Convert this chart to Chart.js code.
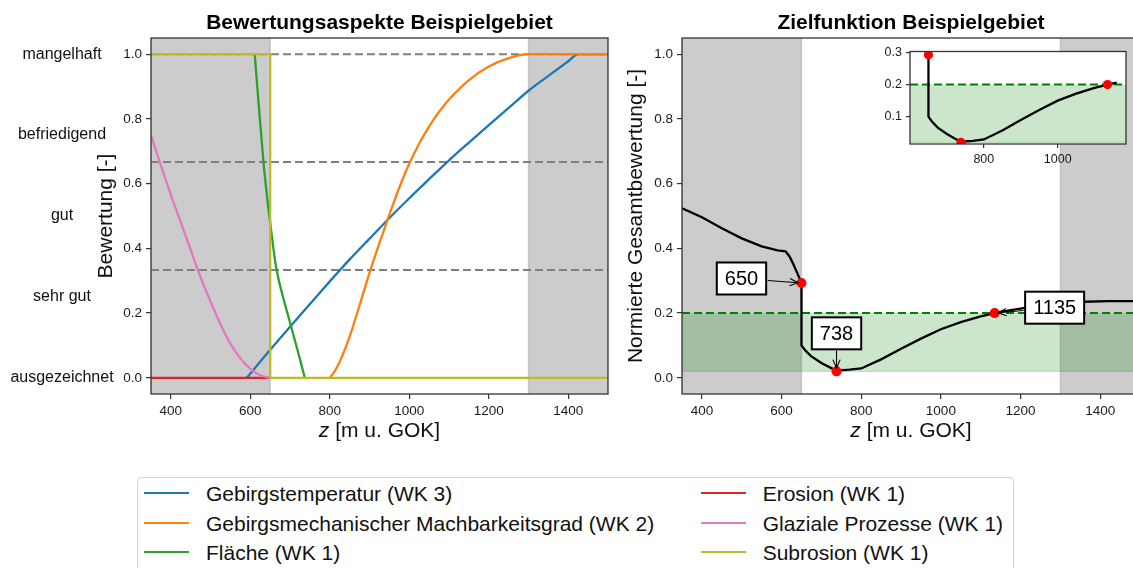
<!DOCTYPE html>
<html>
<head>
<meta charset="utf-8">
<script src="https://cdn.jsdelivr.net/npm/chart.js@4.4.1/dist/chart.umd.min.js"></script>
<style>
html, body { margin: 0; padding: 0; background: #fff; }
body { width: 1133px; height: 568px; overflow: hidden; position: relative; font-family: 'Liberation Sans', Arial, sans-serif; }
canvas { position: absolute; }
#links { left: 0; top: 0; }
#rechts { left: 620px; top: 0; }
#inset { left: 866px; top: 40px; }
#legende { position: absolute; left: 137px; top: 477px; width: 877px; height: 110px; border: 1px solid #d4d4d4; border-radius: 4px; box-sizing: border-box; background: #fff; }
.linie { position: absolute; width: 45px; height: 2.4px; }
.text { position: absolute; font-size: 21px; line-height: 1; color: #111; transform: translateY(-50%); white-space: nowrap; }
</style>
</head>
<body>
<canvas id="links" width="620" height="460"></canvas>
<canvas id="rechts" width="540" height="460"></canvas>
<canvas id="inset" width="266" height="130"></canvas>
<div id="legende"></div>
<script>
const FONT = "'Liberation Sans', Arial, sans-serif";

// Bewertungsaspekte (links)
const reiheNamen = [
    "Gebirgstemperatur (WK 3)",
    "Gebirgsmechanischer Machbarkeitsgrad (WK 2)",
    "Fläche (WK 1)",
    "Erosion (WK 1)",
    "Glaziale Prozesse (WK 1)",
    "Subrosion (WK 1)"
];
const reiheFarben = ["#1f77b4", "#ff7f0e", "#2ca02c", "#d62728", "#e377c2", "#bcbd22"];

const tempZ = [591, 650, 700, 750, 800, 850, 900, 950, 1000, 1050, 1100, 1150, 1200, 1250, 1300, 1350, 1400, 1425, 1500];
const tempW = [0, 0.087, 0.158, 0.228, 0.298, 0.366, 0.430, 0.494, 0.555, 0.614, 0.672, 0.727, 0.781, 0.834, 0.887, 0.933, 0.978, 1.0, 1.0];

const machZ = [800, 812, 825, 850, 875, 900, 925, 950, 975, 1000, 1025, 1050, 1075, 1100, 1150, 1200, 1250, 1300, 1500];
const machW = [0, 0.02, 0.05, 0.128, 0.225, 0.325, 0.417, 0.505, 0.588, 0.662, 0.724, 0.777, 0.822, 0.86, 0.92, 0.962, 0.988, 1.0, 1.0];

const flaecheZ = [611, 620, 633, 642, 650, 657, 663, 670, 680, 700, 720, 737];
const flaecheW = [1.0, 0.86, 0.667, 0.56, 0.478, 0.41, 0.355, 0.31, 0.26, 0.17, 0.08, 0];

const erosionZ = [350, 650];
const erosionW = [0, 0];

const glazialZ = [350, 375, 400, 425, 450, 475, 500, 525, 550, 575, 600, 625, 650];
const glazialW = [0.75, 0.655, 0.565, 0.48, 0.395, 0.31, 0.235, 0.165, 0.105, 0.06, 0.028, 0.008, 0];

const subrosionZ = [350, 650, 650, 1500];
const subrosionW = [1, 1, 0, 0];

const klassenGrenzen = [1 / 3, 2 / 3, 1];
const klassenNamen = ["ausgezeichnet", "sehr gut", "gut", "befriedigend", "mangelhaft"];
const klassenPos = [0, 0.25, 0.5, 0.75, 1];

const ausschluss = [[350, 650], [1300, 1500]];

// Zielfunktion (rechts)
const zielZ = [350, 400, 450, 500, 550, 590, 610, 620, 630, 640, 650, 650, 660, 675, 700, 720, 738, 770, 800, 850, 900, 950, 1000, 1050, 1100, 1135, 1160, 1200, 1250, 1300, 1360, 1420, 1500];
const zielW = [0.524, 0.496, 0.462, 0.431, 0.406, 0.394, 0.391, 0.375, 0.350, 0.322, 0.293, 0.100, 0.084, 0.066, 0.046, 0.033, 0.022, 0.025, 0.029, 0.057, 0.090, 0.121, 0.150, 0.172, 0.190, 0.200, 0.206, 0.214, 0.224, 0.231, 0.235, 0.237, 0.237];

const markerZ = [650, 738, 1135];
const markerW = [0.293, 0.02, 0.2];
const markerText = ["650", "738", "1135"];

const zielBereich = [0.02, 0.2];

const insetXTicks = [800, 1000];
const insetYTicks = [0.1, 0.2, 0.3];

function punkte(z, w) {
    return z.map((v, i) => ({ x: v, y: w[i] }));
}

function achsen(o) {
    return {
        x: {
            type: "linear", min: o.xmin, max: o.xmax,
            ticks: { stepSize: o.xstep, includeBounds: false, autoSkip: false, maxRotation: 0, padding: o.tpad, color: "#1a1a1a", font: { size: o.fs }, callback: v => String(v) },
            grid: { drawOnChartArea: false, drawTicks: true, tickLength: o.tl, color: "#333", lineWidth: 1.2 },
            border: { display: false },
            afterBuildTicks: s => { if (o.xwerte) s.ticks = o.xwerte.map(v => ({ value: v })); },
            afterFit: s => { s.height = o.xh; }
        },
        y: {
            type: "linear", min: o.ymin, max: o.ymax,
            ticks: { stepSize: o.ystep, includeBounds: false, padding: o.tpad, color: "#1a1a1a", font: { size: o.fs }, callback: v => v.toFixed(1) },
            grid: { drawOnChartArea: false, drawTicks: true, tickLength: o.tl, color: "#333", lineWidth: 1.2 },
            border: { display: false },
            title: o.ytitel ? { display: true, text: o.ytitel, color: "#111", font: { size: 21 }, padding: { top: o.ytpad, bottom: 0 } } : { display: false },
            afterBuildTicks: s => { if (o.ywerte) s.ticks = o.ywerte.map(v => ({ value: v })); },
            afterFit: s => { s.width = o.yw; }
        }
    };
}

function rahmen(chart) {
    const { ctx, chartArea: a } = chart;
    ctx.save();
    ctx.strokeStyle = "#333";
    ctx.lineWidth = 1.3;
    ctx.strokeRect(a.left, a.top, a.right - a.left, a.bottom - a.top);
    ctx.restore();
}

function titel(chart, text) {
    const { ctx, chartArea: a } = chart;
    ctx.save();
    ctx.font = "bold 21px " + FONT;
    ctx.fillStyle = "#000";
    ctx.textAlign = "center";
    ctx.textBaseline = "alphabetic";
    ctx.fillText(text, (a.left + a.right) / 2, 29);
    ctx.restore();
}

function xTitel(chart) {
    const { ctx, chartArea: a } = chart;
    ctx.save();
    ctx.fillStyle = "#111";
    ctx.textAlign = "left";
    ctx.textBaseline = "alphabetic";
    ctx.font = "italic 21px " + FONT;
    const w1 = ctx.measureText("z").width;
    ctx.font = "21px " + FONT;
    const w2 = ctx.measureText(" [m u. GOK]").width;
    const x0 = (a.left + a.right) / 2 - (w1 + w2) / 2;
    ctx.font = "italic 21px " + FONT;
    ctx.fillText("z", x0, 437);
    ctx.font = "21px " + FONT;
    ctx.fillText(" [m u. GOK]", x0 + w1, 437);
    ctx.restore();
}

function grauFlaechen(chart) {
    const { ctx, chartArea: a, scales: { x } } = chart;
    ausschluss.forEach(([z0, z1]) => {
        const p0 = x.getPixelForValue(z0), p1 = x.getPixelForValue(z1);
        ctx.fillStyle = "rgba(128,128,128,0.4)";
        ctx.fillRect(p0, a.top, p1 - p0, a.bottom - a.top);
        ctx.strokeStyle = "rgba(128,128,128,0.3)";
        ctx.lineWidth = 1.5;
        [p0, p1].forEach(p => {
            ctx.beginPath(); ctx.moveTo(p, a.top); ctx.lineTo(p, a.bottom); ctx.stroke();
        });
    });
}

function gruenBand(chart) {
    const { ctx, chartArea: a, scales: { y } } = chart;
    const y0 = y.getPixelForValue(zielBereich[0]), y1 = y.getPixelForValue(zielBereich[1]);
    ctx.fillStyle = "rgba(0,128,0,0.2)";
    ctx.fillRect(a.left, y1, a.right - a.left, y0 - y1);
    ctx.strokeStyle = "rgba(0,128,0,0.2)";
    ctx.lineWidth = 1.2;
    ctx.beginPath(); ctx.moveTo(a.left, y0); ctx.lineTo(a.right, y0); ctx.stroke();
    ctx.strokeStyle = "#008000";
    ctx.lineWidth = 2;
    ctx.setLineDash([8, 4]);
    ctx.beginPath(); ctx.moveTo(a.left, y1); ctx.lineTo(a.right, y1); ctx.stroke();
    ctx.setLineDash([]);
}

function pfeil(ctx, x0, y0, x1, y1) {
    const ang = Math.atan2(y1 - y0, x1 - x0);
    ctx.beginPath();
    ctx.moveTo(x0, y0); ctx.lineTo(x1, y1);
    ctx.moveTo(x1 - 9 * Math.cos(ang - 0.42), y1 - 9 * Math.sin(ang - 0.42));
    ctx.lineTo(x1, y1);
    ctx.lineTo(x1 - 9 * Math.cos(ang + 0.42), y1 - 9 * Math.sin(ang + 0.42));
    ctx.stroke();
}

// ---------- linkes Diagramm ----------
const linksDaten = [[tempZ, tempW], [machZ, machW], [flaecheZ, flaecheW], [erosionZ, erosionW], [glazialZ, glazialW], [subrosionZ, subrosionW]];

const linksPlugin = {
    id: "linksDeko",
    beforeDatasetsDraw(chart) {
        const { ctx, chartArea: a, scales: { y } } = chart;
        ctx.save();
        ctx.beginPath(); ctx.rect(a.left, a.top, a.right - a.left, a.bottom - a.top); ctx.clip();
        grauFlaechen(chart);
        ctx.strokeStyle = "#808080";
        ctx.lineWidth = 2;
        ctx.setLineDash([8, 4]);
        klassenGrenzen.forEach(g => {
            const py = y.getPixelForValue(g);
            ctx.beginPath(); ctx.moveTo(a.left, py); ctx.lineTo(a.right, py); ctx.stroke();
        });
        ctx.restore();
    },
    afterDraw(chart) {
        const { ctx, scales: { y } } = chart;
        rahmen(chart);
        titel(chart, "Bewertungsaspekte Beispielgebiet");
        xTitel(chart);
        ctx.save();
        ctx.font = "16px " + FONT;
        ctx.fillStyle = "#111";
        ctx.textAlign = "center";
        ctx.textBaseline = "middle";
        klassenNamen.forEach((n, i) => ctx.fillText(n, 62, y.getPixelForValue(klassenPos[i])));
        ctx.restore();
    }
};

new Chart(document.getElementById("links"), {
    type: "line",
    data: {
        datasets: linksDaten.map(([z, w], i) => ({
            label: reiheNamen[i],
            data: punkte(z, w),
            borderColor: reiheFarben[i],
            borderWidth: 2.3,
            pointRadius: 0,
            fill: false,
            tension: 0,
            cubicInterpolationMode: (i === 3 || i === 5) ? "default" : "monotone",
            order: 6 - i
        }))
    },
    options: {
        responsive: false, animation: false, devicePixelRatio: 1, events: [],
        layout: { padding: { left: 0, top: 38, right: 12, bottom: 0 } },
        plugins: { legend: { display: false }, tooltip: { enabled: false } },
        scales: achsen({ xmin: 350, xmax: 1500, xstep: 200, ymin: -0.05, ymax: 1.05, ystep: 0.2, fs: 13.5, tl: 5, tpad: 4, xh: 66, yw: 151, ytitel: "Bewertung [-]", ytpad: 94 })
    },
    plugins: [linksPlugin]
});

// ---------- rechtes Diagramm ----------
const versatz = [[-60, -4.5], [0, -38], [60, -5.4]];

const rechtsPlugin = {
    id: "rechtsDeko",
    beforeDatasetsDraw(chart) {
        const { ctx, chartArea: a } = chart;
        ctx.save();
        ctx.beginPath(); ctx.rect(a.left, a.top, a.right - a.left, a.bottom - a.top); ctx.clip();
        grauFlaechen(chart);
        gruenBand(chart);
        ctx.restore();
    },
    afterDatasetsDraw(chart) {
        const { ctx, scales: { x, y } } = chart;
        ctx.save();
        ctx.font = "20px " + FONT;
        ctx.textAlign = "center";
        ctx.textBaseline = "middle";
        markerZ.forEach((z, i) => {
            const px = x.getPixelForValue(z), py = y.getPixelForValue(markerW[i]);
            const cx = px + versatz[i][0], cy = py + versatz[i][1];
            const w = ctx.measureText(markerText[i]).width + 16, h = 32;
            // Pfeil vom Kasten zum Punkt
            const dx = px - cx, dy = py - cy;
            const t = Math.min(Math.abs((w / 2) / (dx || 1e-9)), Math.abs((h / 2) / (dy || 1e-9)));
            const sx = cx + dx * t, sy = cy + dy * t;
            const len = Math.hypot(px - sx, py - sy);
            const ex = px - (px - sx) / len * 3.5, ey = py - (py - sy) / len * 3.5;
            ctx.strokeStyle = "#000";
            ctx.lineWidth = 1.1;
            pfeil(ctx, sx + (px - sx) / len * 1.5, sy + (py - sy) / len * 1.5, ex, ey);
            ctx.fillStyle = "#fff";
            ctx.fillRect(cx - w / 2, cy - h / 2, w, h);
            ctx.lineWidth = 2;
            ctx.strokeRect(cx - w / 2, cy - h / 2, w, h);
            ctx.fillStyle = "#000";
            ctx.fillText(markerText[i], cx, cy + 1);
        });
        ctx.restore();
    },
    afterDraw(chart) {
        rahmen(chart);
        titel(chart, "Zielfunktion Beispielgebiet");
        xTitel(chart);
    }
};

new Chart(document.getElementById("rechts"), {
    type: "line",
    data: {
        datasets: [
            { type: "scatter", data: punkte(markerZ, markerW), pointRadius: 5, pointBackgroundColor: "#ff0000", pointBorderWidth: 0, showLine: false, order: 0 },
            { data: punkte(zielZ, zielW), borderColor: "#000", borderWidth: 2.3, pointRadius: 0, tension: 0, fill: false, order: 1 }
        ]
    },
    options: {
        responsive: false, animation: false, devicePixelRatio: 1, events: [],
        layout: { padding: { left: 0, top: 38, right: 20, bottom: 0 } },
        plugins: { legend: { display: false }, tooltip: { enabled: false } },
        scales: achsen({ xmin: 350, xmax: 1500, xstep: 200, ymin: -0.05, ymax: 1.05, ystep: 0.2, fs: 13.5, tl: 5, tpad: 4, xh: 66, yw: 62, ytitel: "Normierte Gesamtbewertung [-]", ytpad: 4 })
    },
    plugins: [rechtsPlugin]
});

// ---------- Inset ----------
const insetPlugin = {
    id: "insetDeko",
    beforeDatasetsDraw(chart) {
        const { ctx, chartArea: a } = chart;
        ctx.save();
        ctx.fillStyle = "#fff";
        ctx.fillRect(a.left, a.top, a.right - a.left, a.bottom - a.top);
        ctx.beginPath(); ctx.rect(a.left, a.top, a.right - a.left, a.bottom - a.top); ctx.clip();
        gruenBand(chart);
        ctx.restore();
    },
    afterDraw(chart) {
        rahmen(chart);
    }
};

const insetIdx = zielZ.map((z, i) => i).filter(i => zielZ[i] >= 620 && zielZ[i] <= 1160);

new Chart(document.getElementById("inset"), {
    type: "line",
    data: {
        datasets: [
            { type: "scatter", data: punkte(markerZ, markerW), pointRadius: 4.6, pointBackgroundColor: "#ff0000", pointBorderWidth: 0, showLine: false, order: 0 },
            { data: punkte(insetIdx.map(i => zielZ[i]), insetIdx.map(i => zielW[i])), borderColor: "#000", borderWidth: 2.3, pointRadius: 0, tension: 0, fill: false, order: 1 }
        ]
    },
    options: {
        responsive: false, animation: false, devicePixelRatio: 1, events: [],
        layout: { padding: { left: 0, top: 8, right: 6, bottom: 0 } },
        plugins: { legend: { display: false }, tooltip: { enabled: false } },
        scales: achsen({ xmin: 600, xmax: 1185, xstep: 200, ymin: 0.015, ymax: 0.303, ystep: 0.1, fs: 12.5, tl: 4, tpad: 4, xh: 26, yw: 44, xwerte: insetXTicks, ywerte: insetYTicks })
    },
    plugins: [insetPlugin]
});

// ---------- Legende ----------
const legende = document.getElementById("legende");
const zeilenY = [15.3, 44.7, 73.7];
reiheNamen.forEach((name, i) => {
    const spalte = i < 3 ? 0 : 1;
    const zeile = i % 3;
    const linie = document.createElement("div");
    linie.className = "linie";
    linie.style.left = (spalte ? 562.7 : 6) + "px";
    linie.style.top = (zeilenY[zeile] - 1.2) + "px";
    linie.style.background = reiheFarben[i];
    legende.appendChild(linie);
    const text = document.createElement("div");
    text.className = "text";
    text.style.left = (spalte ? 624.7 : 68) + "px";
    text.style.top = zeilenY[zeile] + "px";
    text.textContent = name;
    legende.appendChild(text);
});
</script>
</body>
</html>
